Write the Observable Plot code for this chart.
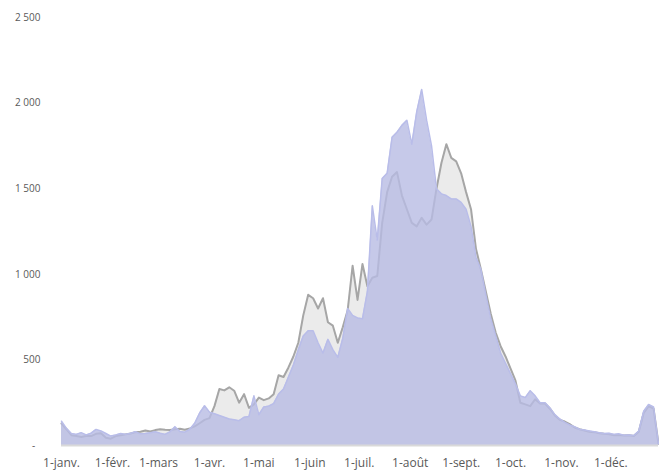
<!DOCTYPE html>
<html>
<head>
<meta charset="utf-8">
<script src="https://cdn.jsdelivr.net/npm/d3@7"></script>
<script src="https://cdn.jsdelivr.net/npm/@observablehq/plot@0.6"></script>
<style>
  html, body { margin: 0; padding: 0; background: #ffffff; }
  #chart { width: 659px; height: 472px; }
</style>
</head>
<body>
<div id="chart"></div>
<script>
// Daily series sampled every 3 days from 1 January
const startDate = "2021-01-01";
const stepDays = 3;

// grey series (earlier year)
const greyValues = [
  128, 95, 60, 55, 50, 55, 55, 68, 72, 45,
  40, 55, 60, 65, 70, 78, 80, 88, 82, 90,
  95, 92, 90, 95, 98, 92, 100, 112, 130, 150,
  160, 230, 330, 322, 340, 320, 250, 300, 220, 240,
  280, 265, 275, 300, 410, 400, 456, 520, 600, 760,
  880, 860, 800, 860, 720, 700, 600, 690, 790, 1050,
  850, 1060, 930, 980, 990, 1300, 1480, 1570, 1597, 1460,
  1380, 1300, 1280, 1330, 1290, 1320, 1500, 1650, 1760, 1680,
  1660, 1590, 1480, 1380, 1150, 1030, 900, 770, 660, 580,
  520, 450, 380, 250, 240, 230, 270, 245, 245, 215,
  175, 150, 140, 125, 105, 95, 88, 80, 78, 72,
  68, 65, 60, 62, 58, 60, 55, 80, 190, 230,
  215, 10
];

// blue series (current year)
const blueValues = [
  142, 100, 70, 65, 75, 62, 72, 94, 85, 70,
  55, 62, 70, 65, 72, 80, 68, 70, 75, 80,
  72, 65, 80, 110, 82, 78, 95, 130, 190, 232,
  195, 185, 175, 165, 155, 150, 145, 165, 170, 290,
  180, 225, 230, 245, 300, 330, 400, 470, 560, 640,
  670, 670, 600, 540, 620, 560, 515, 625, 800, 760,
  745, 740, 900, 1400, 1200, 1560, 1590, 1800, 1830, 1870,
  1900, 1760, 1950, 2080, 1900, 1750, 1500, 1470, 1460, 1440,
  1440, 1420, 1380, 1280, 1100, 1030, 880, 740, 640, 540,
  480, 420, 360, 290, 280, 320, 290, 250, 250, 220,
  180, 155, 135, 120, 110, 95, 90, 85, 80, 75,
  70, 72, 65, 68, 60, 62, 58, 85, 200, 240,
  225, 10
];

const yTicks = [0, 500, 1000, 1500, 2000, 2500];
const monthLabels = ["1-janv.", "1-févr.", "1-mars", "1-avr.", "1-mai", "1-juin",
                     "1-juil.", "1-août", "1-sept.", "1-oct.", "1-nov.", "1-déc."];

const start = new Date(startDate + "T00:00:00Z");
const toRows = vals => vals.map((v, i) => ({date: d3.utcDay.offset(start, i * stepDays), value: v}));
const grey = toRows(greyValues);
const blue = toRows(blueValues);
const monthTicks = monthLabels.map((_, i) => new Date(Date.UTC(2021, i, 1)));

const fmtY = d => d === 0 ? "-\u00a0\u00a0" : d3.format(",")(d).replace(/,/g, "\u00a0");

const chart = Plot.plot({
  width: 659,
  height: 472,
  marginLeft: 61,
  marginRight: 1,
  marginTop: 17,
  marginBottom: 27,
  style: {fontFamily: "'Open Sans', 'Noto Sans', sans-serif", color: "#595959", background: "#ffffff"},
  x: {type: "utc", domain: [start, d3.utcDay.offset(start, (greyValues.length - 1) * stepDays)]},
  y: {domain: [0, 2500]},
  marks: [
    Plot.areaY(grey, {x: "date", y: "value", fill: "#ebebeb"}),
    Plot.lineY(grey, {x: "date", y: "value", stroke: "#a6a6a6", strokeWidth: 2}),
    Plot.areaY(blue, {x: "date", y: "value", fill: "#b8bce3", fillOpacity: 0.8}),
    Plot.lineY(blue, {x: "date", y: "value", stroke: "#b9bde9", strokeWidth: 1.5}),
    Plot.ruleY([0], {stroke: "#d9d9d9", strokeWidth: 2}),
    Plot.axisX({ticks: monthTicks, tickFormat: d => monthLabels[d.getUTCMonth()], tickSize: 0, tickPadding: 13, fontSize: 12, label: null}),
    Plot.axisY({ticks: yTicks, tickFormat: fmtY, tickSize: 0, tickPadding: 21, fontSize: 10, label: null})
  ]
});
document.getElementById("chart").appendChild(chart);
</script>
</body>
</html>
